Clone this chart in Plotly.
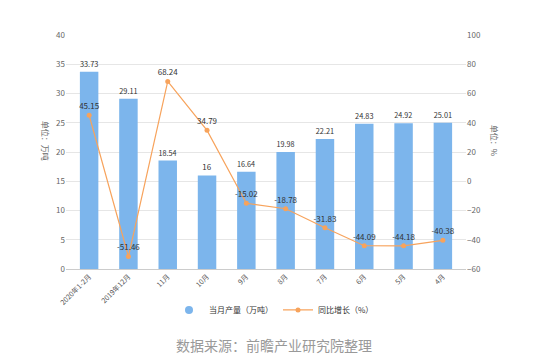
import plotly.graph_objects as go

categories = ["2020年1-2月", "2019年12月", "11月", "10月", "9月", "8月", "7月", "6月", "5月", "4月"]
output_vals = [33.73, 29.11, 18.54, 16, 16.64, 19.98, 22.21, 24.83, 24.92, 25.01]
growth_vals = [45.15, -51.46, 68.24, 34.79, -15.02, -18.78, -31.83, -44.09, -44.18, -40.38]
left_ticks = [0, 5, 10, 15, 20, 25, 30, 35, 40]
right_ticks = [-60, -40, -20, 0, 20, 40, 60, 80, 100]

font_family = "Noto Sans CJK SC, Noto Sans, sans-serif"
bar_color = "#7cb5ec"
line_color = "#f7a35c"

fig = go.Figure()
fig.add_trace(go.Bar(
    x=categories, y=output_vals, name="当月产量（万吨）",
    marker=dict(color=bar_color, line=dict(width=0)),
    width=0.47, showlegend=False,
    text=[f"{v:g}" for v in output_vals], textposition="outside",
    textfont=dict(size=8, color="#333333", family=font_family),
    cliponaxis=False,
))
# legend entry with circular symbol for the bar series
fig.add_trace(go.Scatter(
    x=[None], y=[None], name="当月产量（万吨）", mode="markers",
    marker=dict(color=bar_color, size=8, symbol="circle"),
))
fig.add_trace(go.Scatter(
    x=categories, y=growth_vals, name="同比增长（%）", yaxis="y2",
    mode="lines+markers+text",
    line=dict(color=line_color, width=1.2),
    marker=dict(color=line_color, size=5),
    text=[f"{v:g}" for v in growth_vals], textposition="top center",
    textfont=dict(size=8, color="#333333", family=font_family),
    cliponaxis=False,
))

fig.update_layout(
    width=534, height=355,
    margin=dict(l=58, r=76, t=27, b=94),
    paper_bgcolor="white", plot_bgcolor="white",
    font=dict(family=font_family, size=8, color="#666666"),
    bargap=0.53,
    showlegend=True,
    legend=dict(orientation="h", x=0.52, xanchor="center", y=-0.175, yanchor="middle",
                font=dict(size=8, color="#333333"), itemwidth=30),
    xaxis=dict(
        type="category", tickangle=-45, tickfont=dict(size=7, color="#555555"),
        showline=True, linecolor="#cccccc", linewidth=1, ticks="", showgrid=False,
    ),
    yaxis=dict(
        range=[0, 40], tickvals=left_ticks, showgrid=True, gridcolor="#e6e6e6",
        zeroline=False, tickfont=dict(size=8, color="#666666"),
    ),
    yaxis2=dict(
        range=[-60, 100], tickvals=right_ticks, overlaying="y", side="right",
        showgrid=False, zeroline=False, tickfont=dict(size=8, color="#666666"),
    ),
    annotations=[
        dict(text="单位：万吨", textangle=90, xref="paper", yref="paper",
             x=-0.07, y=0.55, showarrow=False, font=dict(size=8, color="#666666")),
        dict(text="单位：%", textangle=90, xref="paper", yref="paper",
             x=1.09, y=0.55, showarrow=False, font=dict(size=8, color="#666666")),
        dict(text="数据来源：前瞻产业研究院整理", xref="paper", yref="paper",
             x=0.52, y=-0.325, yanchor="middle", xanchor="center", showarrow=False,
             font=dict(size=14, color="#999999")),
    ],
)

fig.write_html("out.html")
